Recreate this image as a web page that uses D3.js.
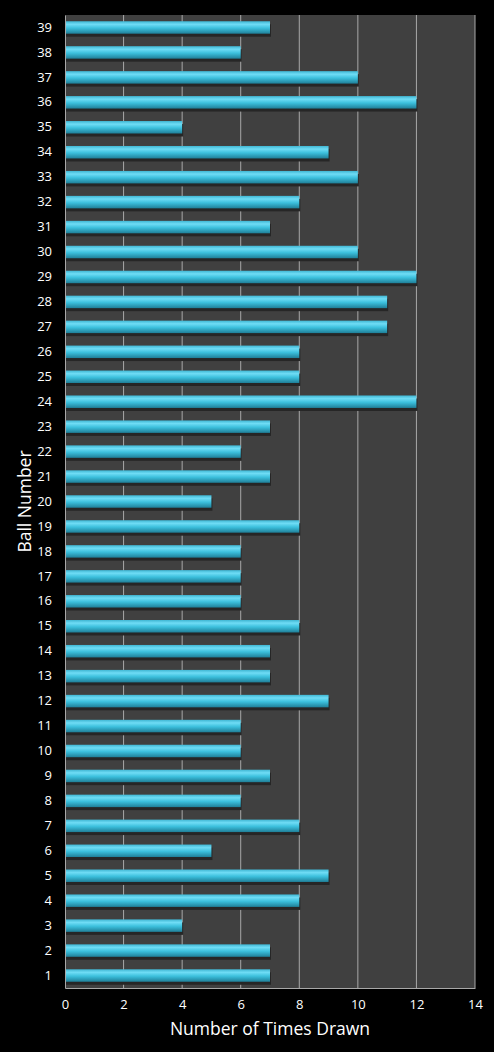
<!DOCTYPE html>
<html>
<head>
<meta charset="utf-8">
<script src="https://cdn.jsdelivr.net/npm/d3@7"></script>
<style>
  body { margin: 0; background: #000; }
  svg { display: block; }
  .tick text { fill: #fff; font-family: "Open Sans", sans-serif; font-size: 13px; }
</style>
</head>
<body>
<svg></svg>
<script>
const balls = [1,2,3,4,5,6,7,8,9,10,11,12,13,14,15,16,17,18,19,20,21,22,23,24,25,26,27,28,29,30,31,32,33,34,35,36,37,38,39]
const timesDrawn = [7,7,4,8,9,5,8,6,7,6,6,9,7,7,8,6,6,6,8,5,7,6,7,12,8,8,11,11,12,10,7,8,10,9,4,12,10,6,7]
const xTicks = [0,2,4,6,8,10,12,14]

let width = 494
let height = 1052
let margin = {top: 15, right: 19, bottom: 64, left: 65}

let svg = d3.select("svg")
    .attr("width", width)
    .attr("height", height)

let defs = svg.append("defs")
let grad = defs.append("linearGradient")
    .attr("id", "barGrad")
    .attr("x1", 0).attr("y1", 0).attr("x2", 0).attr("y2", 1)
grad.append("stop").attr("offset", "0%").attr("stop-color", "#3fb6d3")
grad.append("stop").attr("offset", "25%").attr("stop-color", "#6fdcf5")
grad.append("stop").attr("offset", "55%").attr("stop-color", "#3cc0dd")
grad.append("stop").attr("offset", "100%").attr("stop-color", "#1f7f98")

let xScale = d3.scaleLinear()
    .domain([0, 14])
    .range([margin.left, width - margin.right])

let yScale = d3.scaleBand()
    .domain(balls)
    .range([height - margin.bottom, margin.top])
    .paddingInner(0.5)
    .paddingOuter(0.25)

// plot background
svg.append("rect")
    .attr("x", margin.left)
    .attr("y", margin.top)
    .attr("width", width - margin.left - margin.right)
    .attr("height", height - margin.top - margin.bottom)
    .attr("fill", "#404040")

// gridlines
svg.append("g")
    .selectAll("line")
    .data(xTicks.slice(1))
    .enter()
    .append("line")
    .attr("x1", d => xScale(d))
    .attr("x2", d => xScale(d))
    .attr("y1", margin.top)
    .attr("y2", height - margin.bottom)
    .attr("stroke", "#a8a8a8")
    .attr("stroke-width", 1)

// bar shadows
svg.append("g")
    .selectAll("rect")
    .data(timesDrawn)
    .enter()
    .append("rect")
    .attr("x", xScale(0))
    .attr("y", (d, i) => yScale(balls[i]) + 3)
    .attr("width", d => xScale(d) - xScale(0) + 1)
    .attr("height", yScale.bandwidth())
    .attr("fill", "#262626")

// bars
svg.append("g")
    .selectAll("rect")
    .data(timesDrawn)
    .enter()
    .append("rect")
    .attr("class", "bar")
    .attr("x", xScale(0))
    .attr("y", (d, i) => yScale(balls[i]))
    .attr("width", d => xScale(d) - xScale(0))
    .attr("height", yScale.bandwidth())
    .attr("fill", "url(#barGrad)")

// axes
let xAxis = d3.axisBottom(xScale).tickValues(xTicks).tickSize(0).tickPadding(12)
let yAxis = d3.axisLeft(yScale).tickSize(0).tickPadding(13)

let gx = svg.append("g")
    .attr("transform", "translate(0, " + (height - margin.bottom) + ")")
    .call(xAxis)
gx.select(".domain").attr("stroke", "#a8a8a8")

let gy = svg.append("g")
    .attr("transform", "translate(" + margin.left + ", 0)")
    .call(yAxis)
gy.select(".domain").attr("stroke", "#a8a8a8")

// axis titles
svg.append("text")
    .attr("x", (margin.left + width - margin.right) / 2)
    .attr("y", 1035)
    .attr("text-anchor", "middle")
    .attr("fill", "#fff")
    .style("font-family", "'Open Sans', sans-serif")
    .style("font-size", "17.5px")
    .text("Number of Times Drawn")

svg.append("text")
    .attr("transform", "translate(31, " + ((margin.top + height - margin.bottom) / 2) + ") rotate(-90)")
    .attr("text-anchor", "middle")
    .attr("fill", "#fff")
    .style("font-family", "'Open Sans', sans-serif")
    .style("font-size", "17.5px")
    .text("Ball Number")
</script>
</body>
</html>
